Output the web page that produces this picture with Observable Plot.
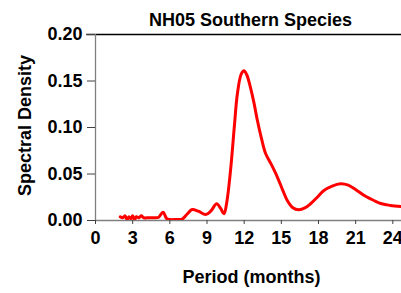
<!DOCTYPE html>
<html>
<head>
<meta charset="utf-8">
<script src="https://cdn.jsdelivr.net/npm/d3@7"></script>
<script src="https://cdn.jsdelivr.net/npm/@observablehq/plot@0.6"></script>
<style>
  html, body { margin: 0; padding: 0; background: #fff; }
  svg { display: block; }
</style>
</head>
<body>
<div id="chart"></div>
<script>
const title = "NH05 Southern Species";
const xLabel = "Period (months)";
const yLabel = "Spectral Density";
const xTicks = [0, 3, 6, 9, 12, 15, 18, 21, 24];
const yTicks = [0, 0.05, 0.10, 0.15, 0.20];

const period = [2.0, 2.2, 2.4, 2.55, 2.7, 2.85, 3.0, 3.15, 3.3, 3.5, 3.7, 3.9, 4.3, 4.8, 5.1, 5.45, 5.75, 6.0, 6.5, 7.0, 7.4, 7.8, 8.3, 8.9, 9.3, 9.78, 10.1, 10.37, 10.6, 10.9, 11.2, 11.45, 11.75, 11.98, 12.2, 12.5, 12.8, 13.06, 13.4, 13.73, 14.2, 14.67, 15.1, 15.48, 15.9, 16.42, 16.9, 17.36, 17.9, 18.44, 19.1, 19.78, 20.4, 21.1, 21.8, 22.47, 23.1, 23.8, 24.7];
const density = [0.004, 0.003, 0.005, 0.001, 0.004, 0.002, 0.005, 0.001, 0.004, 0.003, 0.005, 0.003, 0.003, 0.003, 0.0035, 0.009, 0.002, 0.001, 0.001, 0.0015, 0.007, 0.0118, 0.010, 0.0065, 0.010, 0.018, 0.013, 0.0072, 0.020, 0.054, 0.100, 0.136, 0.157, 0.161, 0.157, 0.1435, 0.126, 0.108, 0.088, 0.072, 0.060, 0.047, 0.033, 0.0215, 0.014, 0.0115, 0.0135, 0.018, 0.025, 0.0323, 0.037, 0.0395, 0.038, 0.0323, 0.026, 0.0215, 0.018, 0.0162, 0.015];

const data = period.map((p, i) => ({period: p, density: density[i]}));
const font = "'Liberation Sans', Arial, sans-serif";

const chart = Plot.plot({
  width: 401,
  height: 293,
  marginLeft: 95,
  marginRight: 0,
  marginTop: 34,
  marginBottom: 73,
  style: {fontFamily: font, fontWeight: "bold", fontSize: "18px", color: "#000", background: "#fff"},
  x: {domain: [0, 24.7], ticks: xTicks, tickFormat: d => String(d)},
  y: {domain: [0, 0.2], ticks: yTicks, tickFormat: d => d.toFixed(2)},
  marks: [
    Plot.ruleY([0.2], {x1: -0.7, x2: 24.7, stroke: "#000", strokeWidth: 1.3, clip: false}),
    Plot.ruleX([0], {stroke: "#808080", strokeWidth: 1.3}),
    Plot.ruleY([0], {stroke: "#808080", strokeWidth: 1.3}),
    Plot.axisY({ticks: yTicks, tickFormat: d => d.toFixed(2), tickSize: 8, tickPadding: 5, stroke: "#404040", label: null, fontSize: 18, style: {letterSpacing: "1px"}}),
    Plot.axisX({ticks: xTicks, tickSize: 4, tickPadding: 7, stroke: "#404040", label: null, fontSize: 18, style: {letterSpacing: "1px"}}),
    Plot.line(data, {x: "period", y: "density", stroke: "#ff0000", strokeWidth: 3, curve: "catmull-rom", clip: true}),
    Plot.text([title], {frameAnchor: "top", dy: -14, dx: 2, fontSize: 18, fontWeight: "bold", lineAnchor: "middle", textAnchor: "middle", style: {letterSpacing: "1.6px"}}),
    Plot.text([xLabel], {frameAnchor: "bottom", dy: 57, dx: 3, fontSize: 18, fontWeight: "bold", lineAnchor: "middle", textAnchor: "middle", style: {letterSpacing: "0.5px"}}),
    Plot.text([yLabel], {frameAnchor: "left", dx: -70, dy: -2, rotate: -90, fontSize: 18, fontWeight: "bold", lineAnchor: "middle", textAnchor: "middle", style: {letterSpacing: "0.8px"}})
  ]
});
document.getElementById("chart").appendChild(chart);
</script>
</body>
</html>
